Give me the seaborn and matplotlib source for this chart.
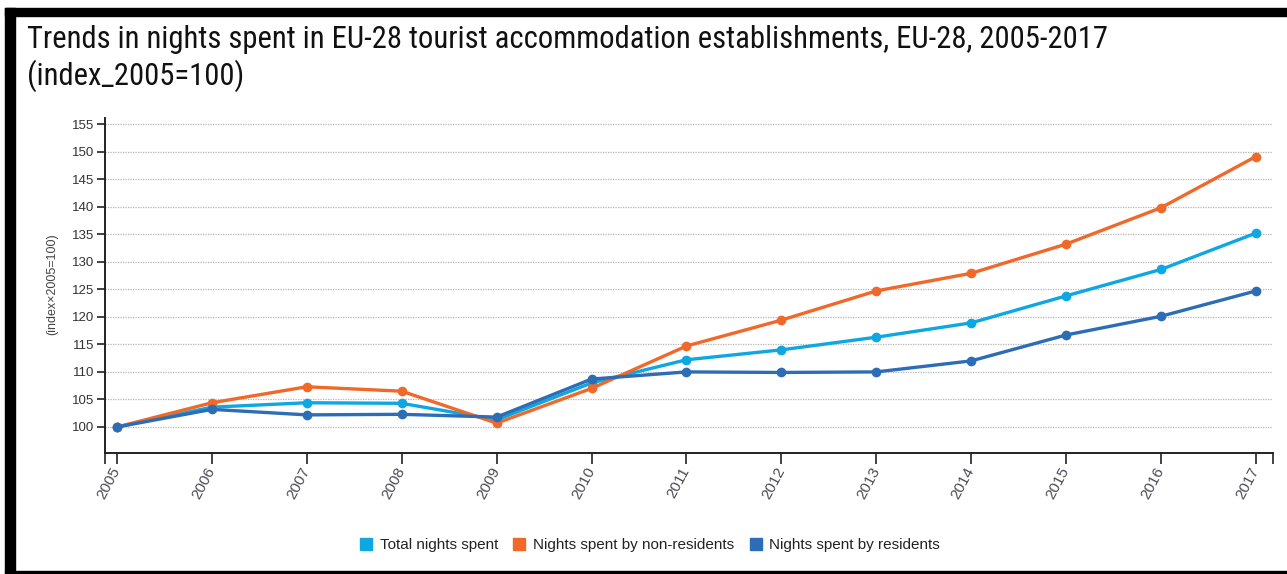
import pandas as pd
import seaborn as sns
import numpy as np
import matplotlib.pyplot as plt
from matplotlib import font_manager
from matplotlib.patches import Rectangle
from matplotlib.lines import Line2D

# values (index 2005 = 100)
years = list(range(2005, 2018))
total = [100.0, 103.6, 104.4, 104.3, 101.3, 108.0, 112.2, 114.0, 116.3, 118.9, 123.8, 128.6, 135.2]
non_residents = [100.0, 104.4, 107.3, 106.5, 100.7, 107.0, 114.7, 119.4, 124.7, 127.9, 133.2, 139.8, 149.1]
residents = [100.0, 103.2, 102.2, 102.3, 101.8, 108.7, 110.0, 109.9, 110.0, 112.0, 116.7, 120.1, 124.7]

series_names = ['Total nights spent', 'Nights spent by non-residents', 'Nights spent by residents']
colors = ['#0fa7e2', '#f0692a', '#2c6db5']
y_ticks = list(range(100, 160, 5))
title = ('Trends in nights spent in EU-28 tourist accommodation establishments, EU-28, 2005-2017\n'
         '(index_2005=100)')

df = pd.DataFrame({
    'year': years * 3,
    'value': total + non_residents + residents,
    'series': np.repeat(series_names, len(years)),
})

sns.set_style('white')
plt.rcParams['font.family'] = ['Liberation Sans', 'DejaVu Sans']

# narrow font for the title if one is around, otherwise Roboto
installed = {f.name for f in font_manager.fontManager.ttflist}
narrow = [n for n in ['Roboto Condensed', 'Liberation Sans Narrow'] if n in installed] + ['Roboto', 'DejaVu Sans']

W, H = 1287, 574
fig = plt.figure(figsize=(W / 100, H / 100), dpi=100)
ax = fig.add_axes([105 / W, 1 - 453 / H, (1273 - 105) / W, (453 - 118) / H])

sns.lineplot(data=df, x='year', y='value', hue='series', palette=colors,
             hue_order=series_names, marker='o', markersize=7, markeredgewidth=0,
             linewidth=2.4, legend=False, ax=ax, zorder=3)

ax.set_xlim(2004.874, 2017.18)
ax.set_ylim(95.28, 156.09)
ax.set_xticks(years)
ax.set_xticks([2004.874, 2017.18], minor=True)
ax.set_yticks(y_ticks)
ax.set_xlabel('')
ax.set_ylabel('')

ax.grid(axis='y', color='#b5b5b5', linestyle=(0, (1, 1)), linewidth=0.9)
ax.grid(axis='x', visible=False)
sns.despine(ax=ax)
for s in ['left', 'bottom']:
    ax.spines[s].set_color('#222222')
    ax.spines[s].set_linewidth(1.4)

ax.tick_params(axis='y', which='major', direction='out', length=6, width=1.2,
               color='#222222', labelsize=9.5, labelcolor='#333333', pad=2, left=True)
ax.tick_params(axis='x', which='both', direction='out', length=8, width=1.2,
               color='#222222', bottom=True)
ax.tick_params(axis='x', which='major', labelsize=11, labelcolor='#4a4a55', pad=3)
for lab in ax.get_xticklabels():
    lab.set_rotation(62)
    lab.set_ha('right')
    lab.set_va('center')
    lab.set_rotation_mode('anchor')

fig.text(52 / W, 1 - 284 / H, '(index×2005=100)', rotation=90, ha='center', va='center',
         fontsize=9, color='#444444')

t = fig.text(27 / W, 1 - 25 / H, title, ha='left', va='top', fontsize=27,
             color='#111111', family=narrow, linespacing=1.2)
# shrink the title until its first line fits the reference width (~1081 px)
r = fig.canvas.get_renderer()
w = t.get_window_extent(r).width
if w > 1081:
    t.set_fontsize(27 * 1081 / w)

handles = [Line2D([], [], linestyle='none', marker='s', markersize=8, color=c) for c in colors]
fig.legend(handles, series_names, loc='center', bbox_to_anchor=(650 / W, 1 - 545 / H),
           ncol=3, frameon=False, fontsize=11, handlelength=0.8, handletextpad=0.5,
           columnspacing=1.0, labelcolor='#222222')

# black frame pieces of the screenshot
fig.patches.append(Rectangle((5 / W, 1 - 16 / H), 1, 8 / H, transform=fig.transFigure,
                             color='black', zorder=0))
fig.patches.append(Rectangle((5 / W, 1 - 573 / H), 10 / W, 565 / H, transform=fig.transFigure,
                             color='black', zorder=0))
fig.patches.append(Rectangle((5 / W, 1 - 573 / H), 1, 2 / H, transform=fig.transFigure,
                             color='black', zorder=0))

fig.savefig('out.png', dpi=100)
